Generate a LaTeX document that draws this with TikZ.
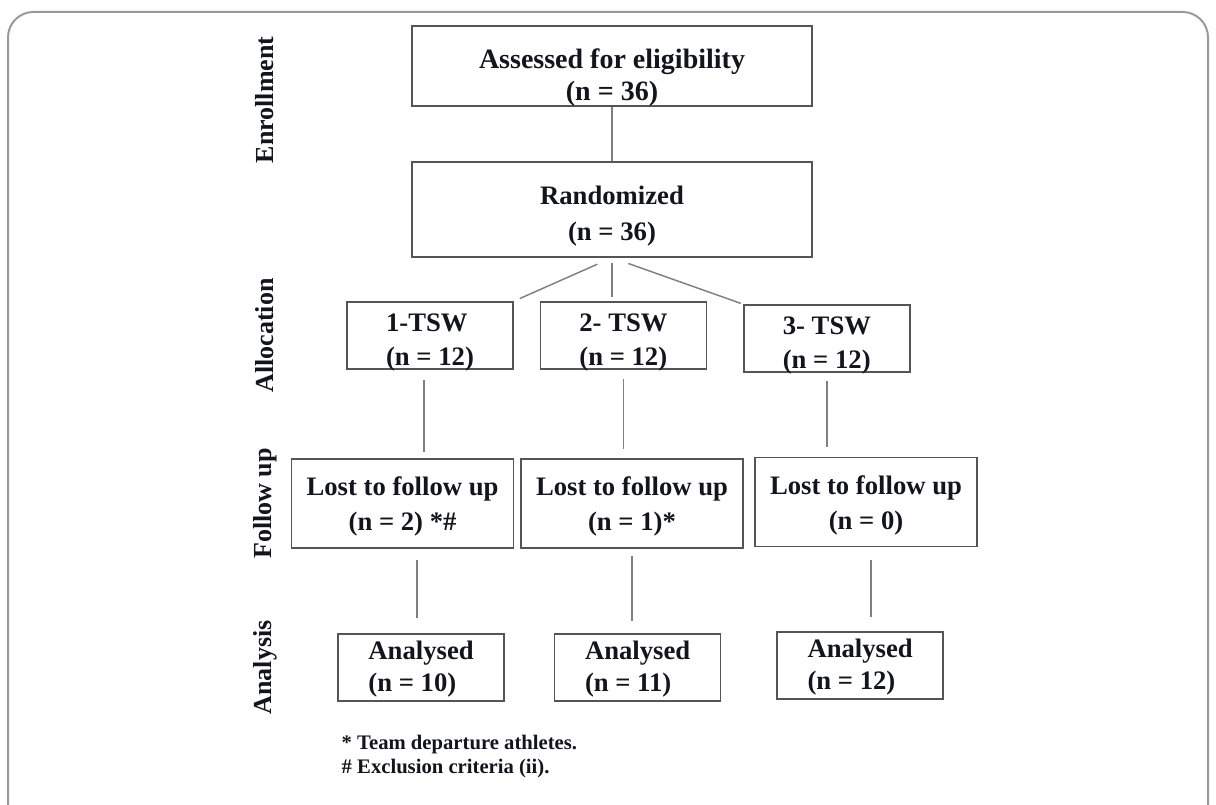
\documentclass[tikz,border=0pt]{standalone}
\usepackage{fontspec}
\setmainfont{Liberation Serif}
\usetikzlibrary{positioning}
\definecolor{boxgray}{HTML}{555555}
\definecolor{linegray}{HTML}{808080}
\definecolor{framegray}{HTML}{9A9A9A}
\definecolor{inktext}{HTML}{14141E}

\begin{document}
\begin{tikzpicture}[x=0.75pt,y=-0.75pt,
		every node/.style={on grid, text=inktext},
		textdrop/.style={text height=#1, text depth=0pt},
		box/.style={draw=boxgray, line width=1.1pt, inner sep=0pt, align=center,
			font=\bfseries\fontsize{20}{26}\selectfont},
		grp/.style={box, align=left, minimum width=124.5pt, minimum height=50.25pt, textdrop=45.4pt},
		lost/.style={box, minimum width=166.5pt, minimum height=66.75pt, textdrop=40.7pt},
		done/.style={grp, font=\bfseries\fontsize{20}{24}\selectfont, textdrop=35.7pt},
		link/.style={draw=linegray, line width=1.1pt},
		stage/.style={rotate=90, font=\bfseries\fontsize{19.5}{22}\selectfont},
		note/.style={anchor=west, align=left, font=\bfseries\fontsize{15.5}{18}\selectfont}]
	\useasboundingbox (0,0) rectangle (1216,805);
	\draw[draw=framegray, line width=1.5pt, rounded corners=19pt] (8,805) -- (8,12) -- (1208,12) -- (1208,805);

	\node[box, minimum width=300pt, minimum height=60pt, textdrop=52.5pt, font=\bfseries\fontsize{21}{24}\selectfont] (assess) at (612,66) {Assessed for eligibility\\(n = 36)};
	\node[box, minimum width=300pt, minimum height=71.25pt, textdrop=46.9pt, font=\bfseries\fontsize{20}{27}\selectfont, below=107.6pt of assess] (rand) {Randomized\\(n = 36)};

	\node[grp, below right=94.5pt and 8.6pt of rand] (tsw2) {2- TSW\\(n = 12)};
	\node[grp, left=145.1pt of tsw2] (tsw1) {1-TSW\\(n = 12)};
	\node[grp, below right=2.25pt and 152.6pt of tsw2] (tsw3) {3- TSW\\(n = 12)};

	\node[lost, below left=126pt and 20.6pt of tsw1] (fu1) {Lost to follow up\\(n = 2) *\#};
	\node[lost, right=172.1pt of fu1] (fu2) {Lost to follow up\\(n = 1)*};
	\node[lost, above right=1.1pt and 175.5pt of fu2] (fu3) {Lost to follow up\\(n = 0)};

	\node[done, below right=123pt and 13.9pt of fu1] (an1) {Analysed\\(n = 10)};
	\node[done, right=162.4pt of an1] (an2) {Analysed\\(n = 11)};
	\node[done, above right=1.5pt and 166.9pt of an2] (an3) {Analysed\\(n = 12)};

	\node[stage] (enrol) at (265,100) {Enrollment};
	\node[stage, left=123.75pt of tsw1] (alloc) {Allocation};
	\node[stage, left=103.1pt of fu1] (follow) {Follow up};
	\node[stage, left=117pt of an1] (analys) {Analysis};

	\node[note] (notes) at (337,757) {* Team departure athletes.\\\# Exclusion criteria (ii).};

	\draw[link] (assess) -- (rand);
	\draw[link, shorten <=12pt, shorten >=5pt] (rand.south) -- (tsw1.north east);
	\draw[link, shorten <=3.75pt, shorten >=3pt] (rand.south) -- (rand.south |- tsw2.north);
	\draw[link, shorten <=13pt, shorten >=2pt] (rand.south) -- (tsw3.north west);

	\draw[link, shorten <=8pt, shorten >=4.5pt] ([xshift=-4.5pt]tsw1.south) -- ([xshift=-4.5pt]tsw1.south |- fu1.north);
	\draw[link, shorten <=6.75pt, shorten >=6.75pt] (tsw2.south) -- (tsw2.south |- fu2.north);
	\draw[link, shorten <=6pt, shorten >=7.5pt] (tsw3.south) -- (tsw3.south |- fu3.north);

	\draw[link, shorten <=8.25pt, shorten >=11.25pt] ([xshift=-3pt]an1.north |- fu1.south) -- ([xshift=-3pt]an1.north);
	\draw[link, shorten <=5.25pt, shorten >=9pt] (fu2.south) -- (fu2.south |- an2.north);
	\draw[link, shorten <=9.75pt, shorten >=10.5pt] ([xshift=3.75pt]fu3.south) -- ([xshift=3.75pt]fu3.south |- an3.north);
\end{tikzpicture}
\end{document}
